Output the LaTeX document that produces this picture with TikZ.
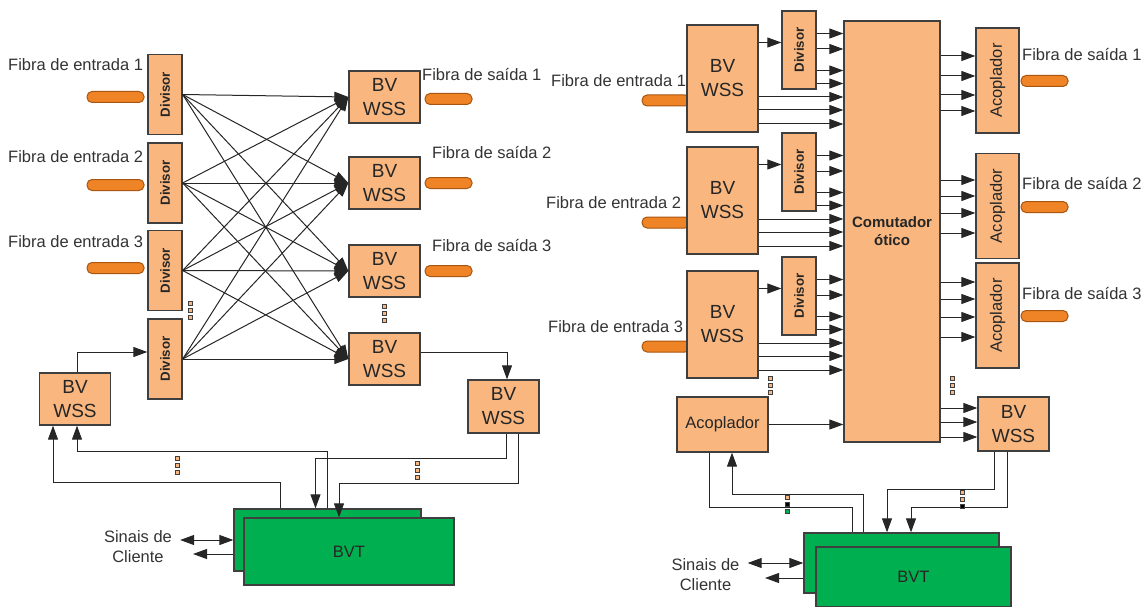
\documentclass[tikz,border=0pt]{standalone}
\usepackage{fontspec}
\setmainfont{Liberation Sans}
\usepackage{graphicx}
\usetikzlibrary{arrows.meta,positioning,calc}

\definecolor{wssFill}{HTML}{F9B77F}
\definecolor{wssLine}{HTML}{3F3F3F}
\definecolor{fiberFill}{HTML}{EF8427}
\definecolor{fiberLine}{HTML}{A8550F}
\definecolor{bvtGreen}{HTML}{00B050}
\definecolor{wireGray}{HTML}{262626}
\definecolor{labelGray}{HTML}{333333}

% three small squares standing for "..."
\newcommand{\dotstack}[5]{%
  \foreach \k/\dc in {0/#3,1/#4,2/#5}
    \draw[draw=wssLine, fill=\dc, line width=0.6pt] (#1-2,#2-2+\k*7.3) rectangle ++(4,4);%
}

\begin{document}
\begin{tikzpicture}[
  x=1pt, y=-1pt,
  font=\fontsize{16.5}{20}\selectfont,
  box/.style={
    draw=wssLine,
    fill=wssFill,
    line width=1.3pt,
    inner sep=0pt,
    align=center,
    text=black!85
  },
  wss/.style={box, minimum width=71pt, minimum height=52pt, font=\fontsize{19}{24}\selectfont},
  divisor/.style={box, minimum width=34pt, minimum height=80pt, font=\fontsize{13.3}{16}\selectfont\bfseries},
  coupler/.style={box, minimum width=43pt, minimum height=105pt},
  fiber/.style={
    draw=fiberLine,
    fill=fiberFill,
    line width=1pt,
    rounded corners=5pt,
    minimum width=57pt,
    minimum height=11pt,
    inner sep=0pt
  },
  bvt/.style={draw=wssLine, fill=bvtGreen, line width=1.3pt, inner sep=0pt, text=black!85},
  lbl/.style={anchor=west, inner sep=0pt, text=labelGray},
  client/.style={align=center, text=labelGray, inner xsep=8pt, inner ysep=0pt},
  arr/.style={-{Triangle[length=14pt,width=10pt]}, line width=1pt, draw=wireGray},
  darr/.style={{Triangle[length=14pt,width=10pt]}-{Triangle[length=14pt,width=10pt]}, line width=1pt, draw=wireGray},
  wire/.style={line width=1pt, draw=wireGray}
]
\useasboundingbox (0,0) rectangle (1148,607);

% ---------- left: broadcast and select ----------
\node[fiber] (fin1) at (115.5,97) {};
\node[fiber] (fin2) at (115.5,185) {};
\node[fiber] (fin3) at (115.5,268) {};
\node[lbl] (tin1) at (8,65) {Fibra de entrada 1};
\node[lbl] (tin2) at (8,157) {Fibra de entrada 2};
\node[lbl] (tin3) at (8,242) {Fibra de entrada 3};

\node[divisor] (dv1) at (165,94.5) {\rotatebox{90}{Divisor}};
\node[divisor] (dv2) at (165,183) {\rotatebox{90}{Divisor}};
\node[divisor] (dv3) at (165,270.5) {\rotatebox{90}{Divisor}};
\node[divisor] (dv4) at (165,359) {\rotatebox{90}{Divisor}};

\node[wss] (bw1) at (384.5,97) {BV\\WSS};
\node[wss] (bw2) at (384.5,183) {BV\\WSS};
\node[wss] (bw3) at (384.5,271) {BV\\WSS};
\node[wss] (bw4) at (384.5,359) {BV\\WSS};

\node[fiber, minimum width=47pt] (fout1) at (448.5,99) {};
\node[fiber, minimum width=47pt] (fout2) at (448.5,183) {};
\node[fiber, minimum width=47pt] (fout3) at (448.5,271) {};
\node[lbl] (tout1) at (422,75) {Fibra de saída 1};
\node[lbl] (tout2) at (432,153) {Fibra de saída 2};
\node[lbl] (tout3) at (432,246) {Fibra de saída 3};

\node[wss] (bwL) at (75,399) {BV\\WSS};
\node[wss, minimum height=53pt] (bwB) at (503.5,406.5) {BV\\WSS};

\foreach \i in {1,...,4}
  \foreach \j in {1,...,4}
    \draw[arr] (dv\i.east) -- (bw\j.west);

\draw[arr] ([xshift=2pt]bwL.north) |- ([yshift=7pt]dv4.west);
\draw[arr] ([yshift=7pt]bw4.east) -| ([xshift=3.5pt]bwB.north);

\node[bvt, minimum width=187pt, minimum height=62pt] (bvtLb) at (327.5,540) {};
\node[bvt, minimum width=210pt, minimum height=67pt] (bvtLf) at (349,551.5) {BVT};

\draw[arr] ([xshift=2.5pt]bwB.south) -- ++(0,25) -| ([xshift=-12pt]bvtLb.north);
\draw[arr] ([xshift=14.5pt]bwB.south) -- ++(0,50) -| ([xshift=-10pt]bvtLf.north);
\draw[arr] (bvtLb.north) -- ++(0,-57) -| ([xshift=2pt]bwL.south);
\draw[arr] ([xshift=-47.5pt]bvtLb.north) -- ++(0,-26) -| ([xshift=-22pt]bwL.south);

\node[client] (cliL) at (138,546.5) {Sinais de\\Cliente};
\coordinate (cliLin) at (193,554);
\draw[darr] (cliL.east |- bvtLb.west) -- (bvtLb.west);
\draw[arr] (bvtLb.west |- cliLin) -- (cliLin);

\dotstack{190}{303}{wssFill}{wssFill}{wssFill}
\dotstack{384}{306}{wssFill}{wssFill}{wssFill}
\dotstack{177}{458}{wssFill}{wssFill}{wssFill}
\dotstack{417}{463}{wssFill}{wssFill}{wssFill}

% ---------- right: route and select with switch ----------
\node[box, minimum width=96pt, minimum height=421pt, font=\fontsize{15}{18}\selectfont\bfseries] (com) at (892,231.5) {Comutador\\ótico};

\foreach \i/\t/\lx in {1/25/551, 2/147/546, 3/271/548} {
  \node[lbl] (rtin\i) at (\lx,\t+56) {Fibra de entrada \i};
  \node[fiber, minimum width=48pt] (rin\i) at (666,\t+75.5) {};
  \node[wss, minimum height=107pt] (bvR\i) at (722.5,\t+53.5) {BV\\WSS};
  \node[divisor, minimum height=78pt] (dvR\i) at (799,\t+25) {\rotatebox{90}{Divisor}};
  \coordinate (ysp) at (0,\t+17.5);
  \draw[arr] (bvR\i.east |- ysp) -- (dvR\i.west |- ysp);
  \foreach \dy in {8.5,24,45.5,58.5} {
    \coordinate (yy) at (0,\t+\dy);
    \draw[arr] (dvR\i.east |- yy) -- (com.west |- yy);
  }
  \foreach \dy in {72,85,99} {
    \coordinate (yy) at (0,\t+\dy);
    \draw[arr] (bvR\i.east |- yy) -- (com.west |- yy);
  }
}

\foreach \i/\cy/\py/\ly/\ys in {1/80.5/81/55/{56,76,95,111}, 2/206/207/184/{180,196,213,233}, 3/315.5/316/294/{282,299,317,337}} {
  \node[coupler] (acR\i) at (997.5,\cy) {\rotatebox{90}{Acoplador}};
  \node[fiber, minimum width=47pt] (rout\i) at (1044.5,\py) {};
  \node[lbl] (rtout\i) at (1022,\ly) {Fibra de saída \i};
  \foreach \dy in \ys {
    \coordinate (yy) at (0,\dy);
    \draw[arr] (com.east |- yy) -- (acR\i.west |- yy);
  }
}

\node[wss, minimum height=54pt] (bvRB) at (1013.5,424) {BV\\WSS};
\foreach \dy in {408,422,437} {
  \coordinate (yy) at (0,\dy);
  \draw[arr] (com.east |- yy) -- (bvRB.west |- yy);
}

\node[box, minimum width=91pt, minimum height=55pt] (acL) at (722.5,424.5) {Acoplador};
\draw[arr] (acL.east) -- (com.west |- acL.east);

\node[bvt, minimum width=195pt, minimum height=60pt] (bvtRb) at (901.5,563) {};
\node[bvt, minimum width=195pt, minimum height=60pt] (bvtRf) at (913.5,577) {BVT};

\draw[arr] ([xshift=-19.5pt]bvRB.south) -- ++(0,38) -| ([xshift=-14.5pt]bvtRb.north);
\draw[arr] ([xshift=-6.5pt]bvRB.south) -- ++(0,56) -| ([xshift=9.5pt]bvtRb.north);
\draw[wire] ([xshift=-13.5pt]acL.south) -- ++(0,55) -| ([xshift=-49.5pt]bvtRb.north);
\draw[arr] ([xshift=-38.5pt]bvtRb.north) -- ++(0,-38) -| ([xshift=9.5pt]acL.south);

\node[client] (cliR) at (705.5,574.5) {Sinais de\\Cliente};
\coordinate (cliRin) at (765,578);
\draw[darr] (cliR.east |- bvtRb.west) -- (bvtRb.west);
\draw[arr] (bvtRb.west |- cliRin) -- (cliRin);

\dotstack{770}{378}{wssFill}{wssFill}{wssFill}
\dotstack{952}{378}{wssFill}{wssFill}{wssFill}
\dotstack{787}{497}{wssFill}{black}{bvtGreen}
\dotstack{962}{492}{wssFill}{wssFill}{black}

\end{tikzpicture}
\end{document}
